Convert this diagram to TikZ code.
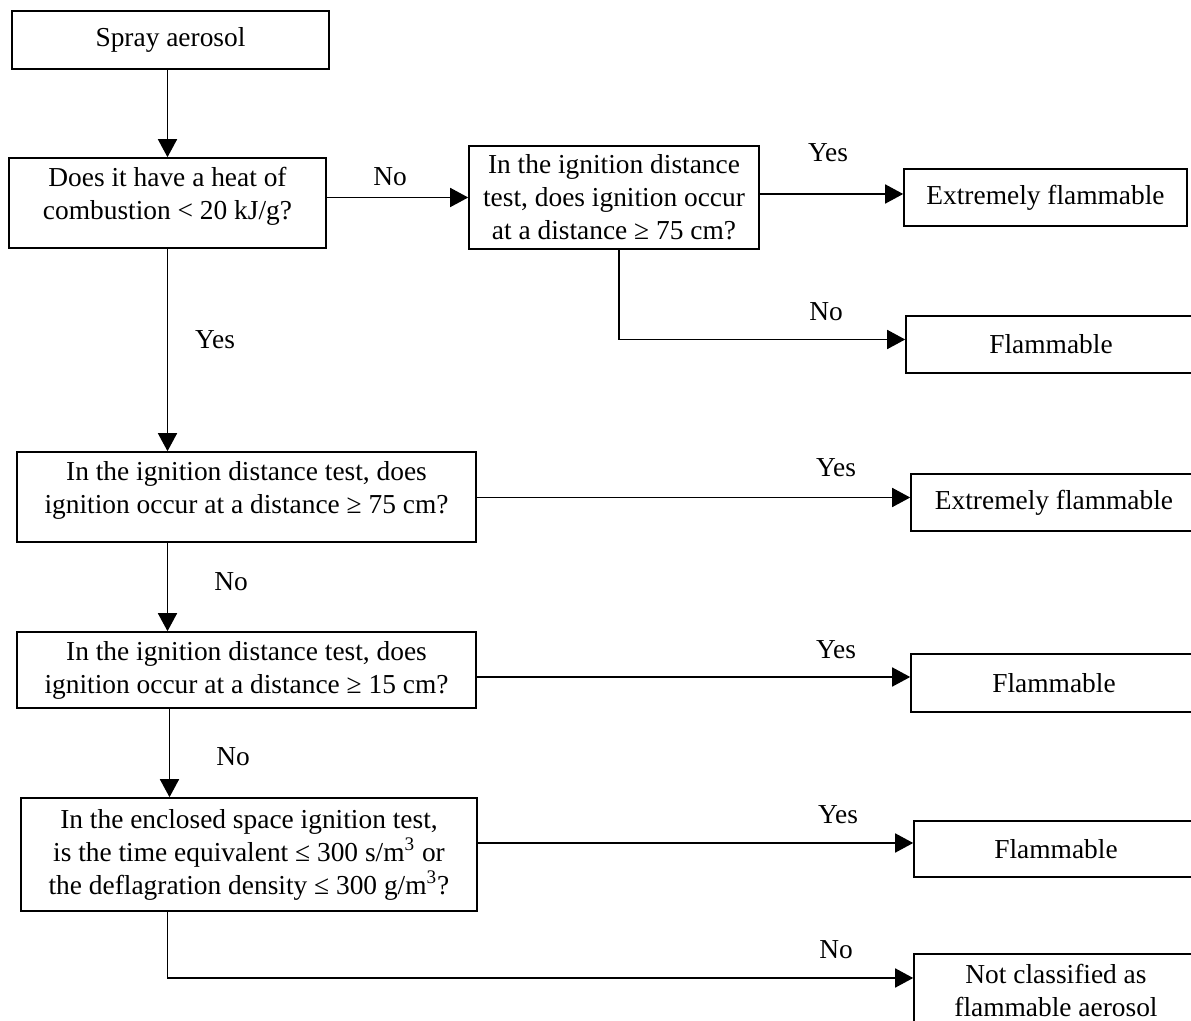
\documentclass[tikz,border=0pt]{standalone}
\usepackage{fontspec}
\setmainfont{Liberation Serif}
\usetikzlibrary{arrows.meta}

\tikzset{
  box/.style={draw, line width=0.8pt, align=center, inner sep=2pt},
  arr/.style={line width=0.8pt, -{Triangle[length=9pt,width=9.5pt]}},
  lbl/.style={inner sep=0pt}
}

\begin{document}
\begin{tikzpicture}[x=0.5pt,y=0.5pt,yscale=-1,font=\fontsize{13.7pt}{16.5pt}\selectfont]
\path[use as bounding box, clip] (0,0) rectangle (1191,1021);

%Boxes: left column
\node[box, minimum width=158.5pt, minimum height=29pt] (start) at (170.5,40) {Spray aerosol};
\node[box, minimum width=158.5pt, minimum height=45pt] (heat) at (167.5,203) {Does it have a heat of\\ combustion < 20 kJ/g?\rule[-10pt]{0pt}{10pt}};
\node[box, minimum width=145pt, minimum height=51.5pt] (distA) at (614,197.5) {In the ignition distance\\ test, does ignition occur\\ at a distance ≥ 75 cm?};
\node[box, minimum width=229.5pt, minimum height=45pt] (distB) at (246.5,497) {In the ignition distance test, does\\ ignition occur at a distance ≥ 75 cm?\rule[-10pt]{0pt}{10pt}};
\node[box, minimum width=229.5pt, minimum height=38pt] (distC) at (246.5,670) {In the ignition distance test, does\\ ignition occur at a distance ≥ 15 cm?};
\node[box, minimum width=228pt, minimum height=56.5pt] (encl) at (249,854.5) {In the enclosed space ignition test,\\ is the time equivalent ≤ 300 s/m\textsuperscript{3} or\\ the deflagration density ≤ 300 g/m\textsuperscript{3}?};

%Boxes: results
\node[box, minimum width=141.5pt, minimum height=28.5pt] (extA) at (1045.5,197.5) {Extremely flammable};
\node[box, minimum width=145pt, minimum height=28.5pt] (flamA) at (1051,344.5) {Flammable};
\node[box, minimum width=143pt, minimum height=28.5pt] (extB) at (1054,502.5) {Extremely flammable};
\node[box, minimum width=143pt, minimum height=29pt] (flamB) at (1054,683) {Flammable};
\node[box, minimum width=142pt, minimum height=28pt] (flamC) at (1056,849) {Flammable};
\node[box, minimum width=142pt, minimum height=36pt] (notcl) at (1056,990) {Not classified as\\ flammable aerosol};

%Connectors
\draw[arr] (heat.north |- start.south) -- (heat.north);
\draw[arr] (heat.east |- distA.west) -- (distA.west);
\draw[arr] ([yshift=-1.75pt]extA.west -| distA.east) -- ([yshift=-1.75pt]extA.west);
\draw[arr] ([xshift=2.5pt]distA.south) |- ([yshift=-2.5pt]flamA.west);
\draw[arr] (heat.south) -- (heat.south |- distB.north);
\draw[arr] ([yshift=-2.5pt]extB.west -| distB.east) -- ([yshift=-2.5pt]extB.west);
\draw[arr] (distB.south -| heat.south) -- (distC.north -| heat.south);
\draw[arr] ([yshift=-3pt]flamB.west -| distC.east) -- ([yshift=-3pt]flamB.west);
\draw[arr] ([xshift=1pt]distC.south -| heat.south) -- ([xshift=1pt]encl.north -| heat.south);
\draw[arr] ([yshift=-3pt]flamC.west -| encl.east) -- ([yshift=-3pt]flamC.west);
\draw[arr] (encl.south -| heat.south) |- ([yshift=-6pt]notcl.west);

%Labels
\node[lbl] (noA) at (390,177) {No};
\node[lbl] (yesA) at (828,153) {Yes};
\node[lbl] (noB) at (826,312) {No};
\node[lbl] (yesB) at (215,340) {Yes};
\node[lbl] (yesC) at (836,468) {Yes};
\node[lbl] (noC) at (231,582) {No};
\node[lbl] (yesD) at (836,650) {Yes};
\node[lbl] (noD) at (233,757) {No};
\node[lbl] (yesE) at (838,815) {Yes};
\node[lbl] (noE) at (836,950) {No};

\end{tikzpicture}
\end{document}
